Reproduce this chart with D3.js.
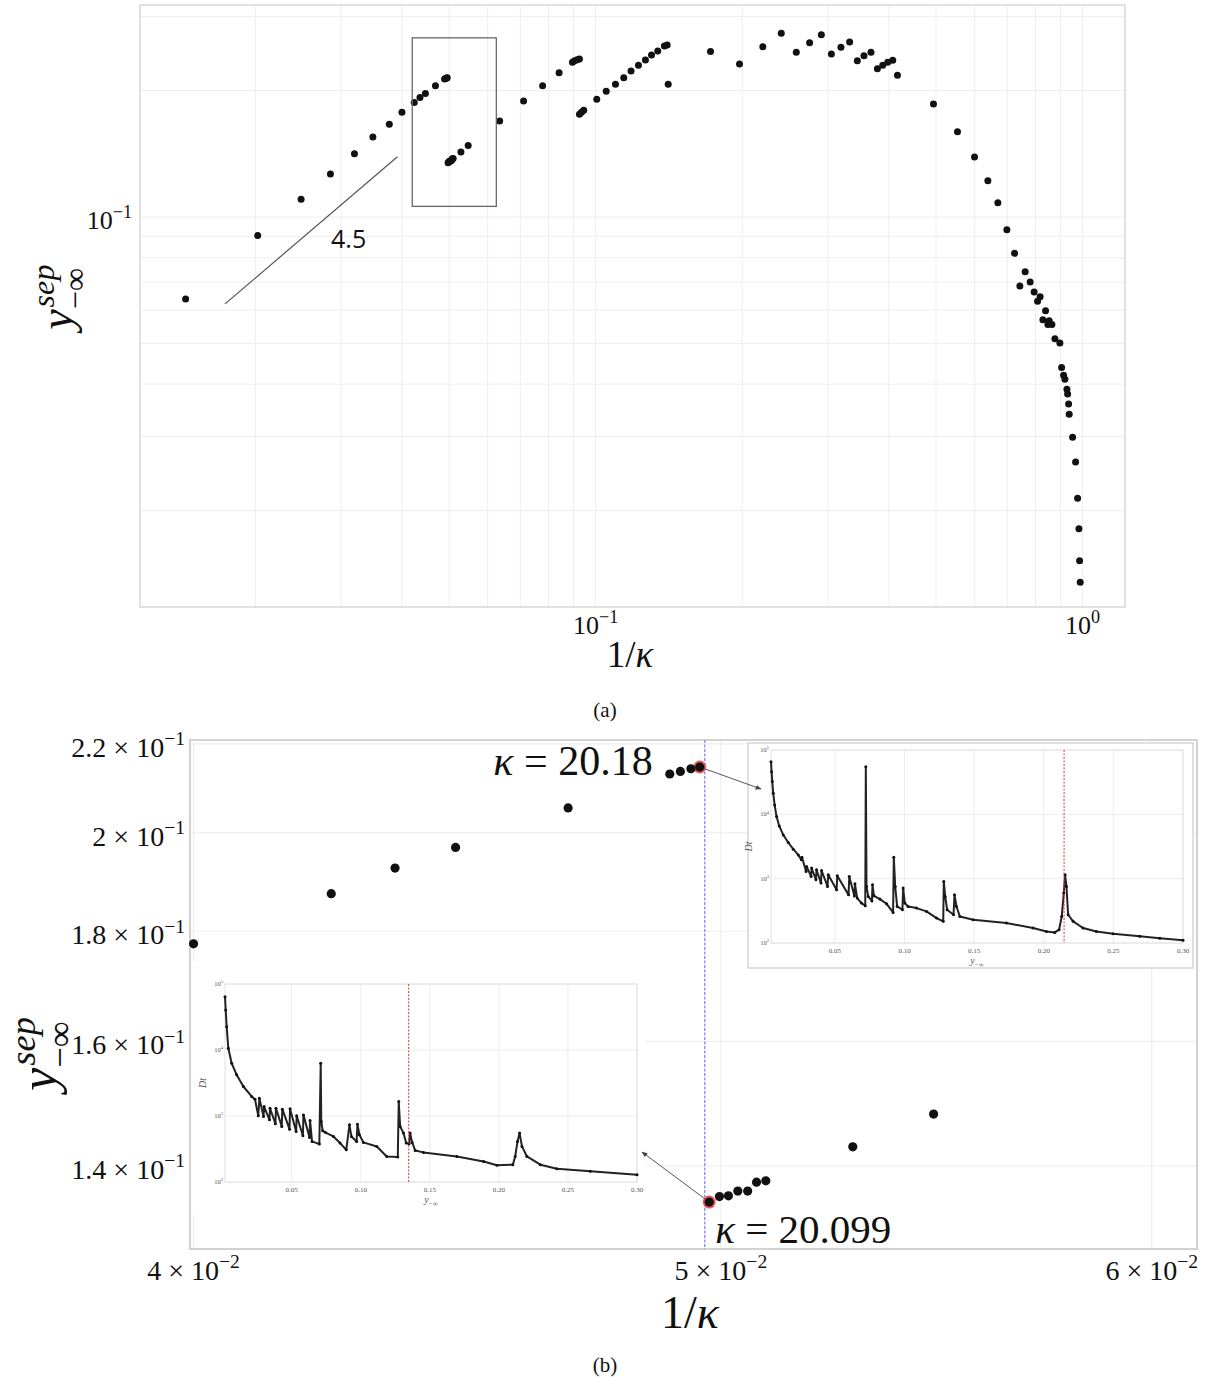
<!DOCTYPE html>
<html lang="en">
<head>
<meta charset="utf-8">
<title>y_sep versus 1/kappa</title>
<script src="https://cdn.jsdelivr.net/npm/d3@7"></script>
<style>
  body { margin: 0; background: white; }
  svg text { font-family: "Liberation Serif", "DejaVu Serif", serif; fill: #111; }
</style>
</head>
<body>
<script>
// 1/kappa and y_sep of every run (panel (b) is a zoom of the same runs)
let invKappa = [
  0.01438, 0.02022, 0.02483, 0.02852, 0.03195, 0.03486, 0.03768,
  0.0400, 0.0424, 0.04356, 0.04469, 0.04687, 0.04893, 0.04915, 0.04937, 0.049554,
  0.049754, 0.04997, 0.05016, 0.05036, 0.05057, 0.05076, 0.05096, 0.05287, 0.05471,
  0.0635, 0.0711, 0.0778, 0.0841, 0.0896, 0.0905, 0.0916, 0.0926,
  0.0926, 0.0935, 0.0945, 0.1005, 0.1051, 0.1098, 0.1142, 0.1182, 0.1224, 0.1265,
  0.1302, 0.1341, 0.1384, 0.1402, 0.1409,
  0.1721, 0.1974, 0.2204, 0.2405, 0.2582, 0.2750, 0.2907, 0.3048, 0.3189, 0.3323,
  0.3446, 0.3556, 0.3676, 0.3789, 0.3886, 0.3979, 0.4074, 0.4166,
  0.4940, 0.5534, 0.5998, 0.6389, 0.6698, 0.6990, 0.7249, 0.7621, 0.7803, 0.7432,
  0.7952, 0.8180, 0.8081, 0.8393, 0.8287, 0.8538, 0.8486, 0.8648, 0.8772, 0.8981,
  0.9054, 0.9140, 0.9197, 0.9285, 0.9316, 0.9359, 0.9386, 0.9537, 0.9674, 0.9766,
  0.9827, 0.9859, 0.9888
]
let ySep = [
  0.0638, 0.0903, 0.1102, 0.1266, 0.1415, 0.1550, 0.1662,
  0.1776, 0.1874, 0.1926, 0.1969, 0.2054, 0.2130, 0.2136, 0.2142, 0.2146,
  0.1347, 0.1355, 0.1356, 0.1363, 0.1363, 0.1376, 0.1378, 0.1429, 0.1480,
  0.1693, 0.1889, 0.2054, 0.2206, 0.2335, 0.2356, 0.2369, 0.2378,
  0.1756, 0.1775, 0.1795, 0.1906, 0.1992, 0.2070, 0.2146, 0.2227, 0.2297, 0.2365,
  0.2431, 0.2485, 0.2554, 0.2568, 0.2070,
  0.2476, 0.2313, 0.2544, 0.2737, 0.2467, 0.2600, 0.2716, 0.2444, 0.2535, 0.2610,
  0.2356, 0.2421, 0.2467, 0.2255, 0.2297, 0.2335, 0.2361, 0.2175,
  0.1858, 0.1596, 0.1390, 0.1220, 0.1082, 0.0933, 0.0820, 0.0741, 0.0700, 0.0685,
  0.0663, 0.0646, 0.0630, 0.0598, 0.0569, 0.0566, 0.0555, 0.0555, 0.0513, 0.0501,
  0.0438, 0.0420, 0.0411, 0.0389, 0.0379, 0.0359, 0.0339, 0.0299, 0.0261, 0.0214,
  0.0181, 0.0152, 0.0135
]

// the two runs marked in red in panel (b)
let markedKappa = [20.18, 20.099]
let markedYSep = [0.2146, 0.1347]
let blueLineInvKappa = 0.04966

// slope guide and zoom box of panel (a)
let slopeX = [0.01733, 0.03916]
let slopeY = [0.0621, 0.1392]
let slopeText = "4.5"
let zoomBoxX = [0.042, 0.0625]
let zoomBoxY = [0.106, 0.267]

// tick values
let ticksAx = [0.1, 1]
let ticksAy = [0.1]
let ticksBx = [0.04, 0.05, 0.06]
let ticksBy = [0.14, 0.16, 0.18, 0.2, 0.22]
let insetTicksX = [0.05, 0.10, 0.15, 0.20, 0.25, 0.30]
let insetTicksY = [1e2, 1e3, 1e4, 1e5]

// inset curves Dt against y_-inf, [y_-inf, Dt]
let insetTopPts = [
  [0.0041,65900],[0.0045,46100],[0.0050,32300],[0.0057,21200],[0.0067,14000],[0.0081,9230],
  [0.0100,6610],[0.0129,4790],[0.0165,3650],[0.0201,2870],[0.0237,2340],[0.0259,1960],
  [0.0263,2160],[0.0293,1290],[0.0297,1550],[0.0329,1080],[0.0333,1460],[0.0364,960],
  [0.0368,1370],[0.0400,853],[0.0404,1340],[0.0447,757],[0.0452,1150],[0.0512,672],
  [0.0517,1110],[0.0598,560],[0.0603,1080],[0.0640,540],[0.0644,832],[0.0660,499],
  [0.0691,417],[0.0718,379],[0.0722,55100],[0.0727,757],[0.0739,529],[0.0766,450],
  [0.0770,803],[0.0780,542],[0.0823,481],[0.0871,407],[0.0918,299],[0.0923,2160],
  [0.0933,757],[0.0947,370],[0.0985,329],[0.0990,713],[0.1002,417],[0.1026,370],
  [0.1086,349],[0.1158,310],[0.1230,244],[0.1278,217],[0.1282,905],[0.1292,529],
  [0.1306,329],[0.1352,275],[0.1359,562],[0.1373,370],[0.1397,259],[0.1493,230],
  [0.1732,204],[0.1923,171],[0.2019,151],[0.2079,146],[0.2110,161],[0.2129,259],
  [0.2144,597],[0.2153,1150],[0.2163,757],[0.2175,275],[0.2211,217],[0.2282,171],
  [0.2378,151],[0.2498,139],[0.2689,127],[0.2833,119],[0.3000,110]
]
let insetLowPts = [
  [0.0017,64300],[0.0022,40400],[0.0029,22600],[0.0041,10600],[0.0065,6310],[0.0101,4200],
  [0.0150,2800],[0.0210,1980],[0.0234,1800],[0.0258,1010],[0.0266,1860],[0.0296,984],
  [0.0300,1390],[0.0339,875],[0.0343,1310],[0.0382,762],[0.0386,1310],[0.0428,695],
  [0.0432,1270],[0.0484,632],[0.0488,1290],[0.0532,583],[0.0536,1010],[0.0581,501],
  [0.0585,1040],[0.0629,473],[0.0633,855],[0.0647,412],[0.0700,375],[0.0710,6310],
  [0.0714,826],[0.0724,600],[0.0745,560],[0.0802,490],[0.0850,389],[0.0895,308],
  [0.0918,736],[0.0932,490],[0.0970,412],[0.0976,753],[0.0990,520],[0.1019,398],
  [0.1116,346],[0.1188,244],[0.1268,240],[0.1275,1660],[0.1285,695],[0.1309,551],
  [0.1329,389],[0.1350,380],[0.1357,551],[0.1372,398],[0.1394,301],[0.1454,281],
  [0.1696,244],[0.1889,205],[0.1986,179],[0.2101,183],[0.2118,244],[0.2135,412],
  [0.2150,551],[0.2167,346],[0.2203,244],[0.2300,183],[0.2420,159],[0.2662,145],
  [0.3000,129]
]

let runs = invKappa.map((d, i) => ({x: d, y: ySep[i]}))
let marked = markedKappa.map((k, i) => ({x: 1 / k, y: markedYSep[i], k: k}))

let svg = d3.select("body").append("svg").attr("width", 1210).attr("height", 1381)

let defs = svg.append("defs")
defs.append("marker").attr("id", "arrow").attr("viewBox", "0 0 10 10")
  .attr("refX", 9).attr("refY", 5).attr("markerWidth", 6).attr("markerHeight", 6)
  .attr("orient", "auto-start-reverse")
  .append("path").attr("d", "M0,1 L10,5 L0,9 z").attr("fill", "#444")

// "m x 10^e" style label with a raised exponent
let sciParts = (v) => {
  let e = Math.floor(Math.log10(v) + 1e-9)
  let m = +(v / Math.pow(10, e)).toFixed(1)
  return {m: m === 1 ? "" : String(m), e: String(e).replace("-", "\u2212")}
}
let powLabel = (g, x, y, v, size, anchor) => {
  let p = sciParts(v)
  let t = g.append("text").attr("x", x).attr("y", y).attr("font-size", size).attr("text-anchor", anchor)
  t.append("tspan").text(p.m ? p.m + " \u00d7 10" : "10")
  t.append("tspan").attr("dy", -size * 0.42).attr("font-size", size * 0.7).text(p.e)
  return t
}

let ySepLabel = (cx, cy, size) => {
  let g = svg.append("g").attr("transform", `translate(${cx},${cy}) rotate(-90)`)
  let inner = g.append("g")
  let yT = inner.append("text").attr("font-size", size).attr("font-style", "italic").text("y")
  let w = yT.node().getComputedTextLength()
  let s = size * 0.7
  let sup = inner.append("text").attr("x", w + size * 0.04).attr("y", -size * 0.4)
    .attr("font-size", s).attr("font-style", "italic").text("sep")
  let sub = inner.append("text").attr("x", w).attr("y", size * 0.3)
    .attr("font-size", s).text("\u2212\u221e")
  let tot = w + Math.max(sup.node().getComputedTextLength(), sub.node().getComputedTextLength())
  inner.attr("transform", `translate(${-tot / 2},0)`)
}

let kappaLabel = (x, y, size, anchor) => {
  let t = svg.append("text").attr("x", x).attr("y", y).attr("font-size", size).attr("text-anchor", anchor)
  t.append("tspan").text("1/")
  t.append("tspan").attr("font-style", "italic").text("\u03ba")
}

// ---------------- panel (a) ----------------
let xA = d3.scaleLog().domain([0.01159, 1.222]).range([140, 1125])
let yA = d3.scaleLog().domain([0.01179, 0.3197]).range([607, 5])
let gA = svg.append("g")

gA.append("g").selectAll("line").data(xA.ticks()).join("line")
  .attr("x1", d => xA(d)).attr("x2", d => xA(d)).attr("y1", 5).attr("y2", 607)
  .attr("stroke", "#eeeeee").attr("stroke-width", 1)
gA.append("g").selectAll("line").data(yA.ticks()).join("line")
  .attr("x1", 140).attr("x2", 1125).attr("y1", d => yA(d)).attr("y2", d => yA(d))
  .attr("stroke", "#eeeeee").attr("stroke-width", 1)
gA.append("rect").attr("x", 140).attr("y", 5).attr("width", 985).attr("height", 602)
  .attr("fill", "none").attr("stroke", "#dadada").attr("stroke-width", 1.6)

gA.append("g").selectAll("circle").data(runs).join("circle")
  .attr("cx", d => xA(d.x)).attr("cy", d => yA(d.y)).attr("r", 3.5).attr("fill", "#111")

gA.append("line")
  .attr("x1", xA(slopeX[0])).attr("y1", yA(slopeY[0])).attr("x2", xA(slopeX[1])).attr("y2", yA(slopeY[1]))
  .attr("stroke", "#555").attr("stroke-width", 1.2)
gA.append("text").attr("x", xA(slopeX[0]) + 106).attr("y", yA(slopeY[0]) - 56)
  .attr("font-size", 25).style("font-family", "'Open Sans', 'DejaVu Sans', sans-serif").text(slopeText)
gA.append("rect")
  .attr("x", xA(zoomBoxX[0])).attr("y", yA(zoomBoxY[1]))
  .attr("width", xA(zoomBoxX[1]) - xA(zoomBoxX[0])).attr("height", yA(zoomBoxY[0]) - yA(zoomBoxY[1]))
  .attr("fill", "none").attr("stroke", "#666").attr("stroke-width", 1.3)

ticksAx.forEach(v => powLabel(gA, xA(v), 634, v, 26, "middle"))
ticksAy.forEach(v => powLabel(gA, 132, yA(v) + 12, v, 26, "end"))
kappaLabel(630, 667, 37, "middle")
ySepLabel(72, 298, 46)
svg.append("text").attr("x", 605).attr("y", 717).attr("font-size", 21).attr("text-anchor", "middle").text("(a)")

// ---------------- panel (b) ----------------
let xB = d3.scaleLog().domain([0.03994, 0.06116]).range([190, 1197])
let yB = d3.scaleLog().domain([0.1281, 0.2209]).range([1249, 740])
let gB = svg.append("g")

gB.append("g").selectAll("line").data(ticksBx).join("line")
  .attr("x1", d => xB(d)).attr("x2", d => xB(d)).attr("y1", 740).attr("y2", 1249)
  .attr("stroke", "#eeeeee").attr("stroke-width", 1.2)
gB.append("g").selectAll("line").data(ticksBy).join("line")
  .attr("x1", 190).attr("x2", 1197).attr("y1", d => yB(d)).attr("y2", d => yB(d))
  .attr("stroke", "#eeeeee").attr("stroke-width", 1.2)

// inset pictures of Dt(y_-inf)
let drawInset = (box, plot, pts, xMin, redX, border) => {
  let g = svg.append("g")
  g.append("rect").attr("x", box[0]).attr("y", box[1])
    .attr("width", box[2] - box[0]).attr("height", box[3] - box[1])
    .attr("fill", "white").attr("stroke", border ? "#d6d6d6" : "none").attr("stroke-width", 1.5)
  let x = d3.scaleLinear().domain([xMin, 0.30]).range([plot[0], plot[2]])
  let y = d3.scaleLog().domain([1e2, 1e5]).range([plot[3], plot[1]])
  g.append("g").selectAll("line").data(insetTicksX).join("line")
    .attr("x1", d => x(d)).attr("x2", d => x(d)).attr("y1", plot[1]).attr("y2", plot[3])
    .attr("stroke", "#ececec")
  g.append("g").selectAll("line").data(insetTicksY).join("line")
    .attr("x1", plot[0]).attr("x2", plot[2]).attr("y1", d => y(d)).attr("y2", d => y(d))
    .attr("stroke", "#ececec")
  g.append("rect").attr("x", plot[0]).attr("y", plot[1])
    .attr("width", plot[2] - plot[0]).attr("height", plot[3] - plot[1])
    .attr("fill", "none").attr("stroke", "#e2e2e2")
  g.append("path").datum(pts)
    .attr("d", d3.line().x(d => x(d[0])).y(d => y(d[1])))
    .attr("fill", "none").attr("stroke", "#222").attr("stroke-width", 2)
    .attr("stroke-linejoin", "round")
  g.append("g").selectAll("circle").data(pts).join("circle")
    .attr("cx", d => x(d[0])).attr("cy", d => y(d[1])).attr("r", 1.5).attr("fill", "#111")
  g.append("line").attr("x1", x(redX)).attr("x2", x(redX)).attr("y1", plot[1]).attr("y2", plot[3])
    .attr("stroke", "#e8342c").attr("stroke-width", 1).attr("stroke-dasharray", "2,1.5")
  g.append("g").selectAll("text").data(insetTicksX).join("text")
    .attr("x", d => x(d)).attr("y", plot[3] + 10).attr("font-size", 7).attr("text-anchor", "middle")
    .style("fill", "#555").text(d => d3.format(".2f")(d))
  insetTicksY.forEach(v => powLabel(g, plot[0] - 2, y(v) + 2, v, 6.5, "end").style("fill", "#555"))
  let xl = g.append("text").attr("x", (plot[0] + plot[2]) / 2).attr("y", plot[3] + 21)
    .attr("font-size", 10).attr("text-anchor", "middle").style("fill", "#555")
  xl.append("tspan").attr("font-style", "italic").text("y")
  xl.append("tspan").attr("dy", 2.5).attr("font-size", 7).text("\u2212\u221e")
  g.append("text").attr("transform", `translate(${plot[0] - 19},${(plot[1] + plot[3]) / 2}) rotate(-90)`)
    .attr("font-size", 10).attr("font-style", "italic").attr("text-anchor", "middle")
    .style("fill", "#555").text("Dt")
}

let topBox = [748, 743, 1193, 968]
let lowBox = [190, 962, 645, 1215]
drawInset(topBox, [771, 750, 1183, 943], insetTopPts, 0.0041, markedYSep[0], true)
drawInset(lowBox, [225, 984, 637, 1182], insetLowPts, 0.0017, markedYSep[1], false)

let gB2 = svg.append("g")
gB2.append("rect").attr("x", 190).attr("y", 740).attr("width", 1007).attr("height", 509)
  .attr("fill", "none").attr("stroke", "#d2d2d2").attr("stroke-width", 2)

gB2.append("line").attr("x1", xB(blueLineInvKappa)).attr("x2", xB(blueLineInvKappa))
  .attr("y1", 740).attr("y2", 1249)
  .attr("stroke", "#7f86ff").attr("stroke-width", 1.3).attr("stroke-dasharray", "3,1.5")

// arrows from the marked runs to their insets
gB2.append("line").attr("x1", xB(marked[0].x)).attr("y1", yB(marked[0].y))
  .attr("x2", topBox[0] + 13).attr("y2", topBox[1] + 46)
  .attr("stroke", "#555").attr("stroke-width", 1).attr("marker-end", "url(#arrow)")
gB2.append("line").attr("x1", xB(marked[1].x)).attr("y1", yB(marked[1].y))
  .attr("x2", lowBox[2] - 3).attr("y2", lowBox[1] + 190)
  .attr("stroke", "#555").attr("stroke-width", 1).attr("marker-end", "url(#arrow)")

gB2.append("g").selectAll("circle").data(marked).join("circle")
  .attr("cx", d => xB(d.x)).attr("cy", d => yB(d.y)).attr("r", 6.5)
  .attr("fill", "#ee3b3b").attr("opacity", 0.85)
gB2.append("g").selectAll("circle")
  .data(runs.filter(d => d.x >= xB.domain()[0] * 0.999 && d.x <= xB.domain()[1]))
  .join("circle")
  .attr("cx", d => xB(d.x)).attr("cy", d => yB(d.y)).attr("r", 4.6).attr("fill", "#111")

let kTop = gB2.append("text").attr("x", xB(marked[0].x) - 47).attr("y", yB(marked[0].y) + 8)
  .attr("font-size", 42).attr("text-anchor", "end")
kTop.append("tspan").attr("font-style", "italic").text("\u03ba")
kTop.append("tspan").text(" = " + marked[0].k)
let kLow = gB2.append("text").attr("x", xB(marked[1].x) + 6).attr("y", yB(marked[1].y) + 41)
  .attr("font-size", 41).attr("text-anchor", "start")
kLow.append("tspan").attr("font-style", "italic").text("\u03ba")
kLow.append("tspan").text(" = " + marked[1].k)

ticksBx.forEach(v => powLabel(gB2, xB(v), 1280, v, 28, "middle"))
ticksBy.forEach(v => powLabel(gB2, 185, yB(v) + 13, v, 28, "end"))
kappaLabel(690, 1328, 46, "middle")
ySepLabel(56, 1055, 52)
svg.append("text").attr("x", 605).attr("y", 1372).attr("font-size", 21).attr("text-anchor", "middle").text("(b)")
</script>
</body>
</html>
